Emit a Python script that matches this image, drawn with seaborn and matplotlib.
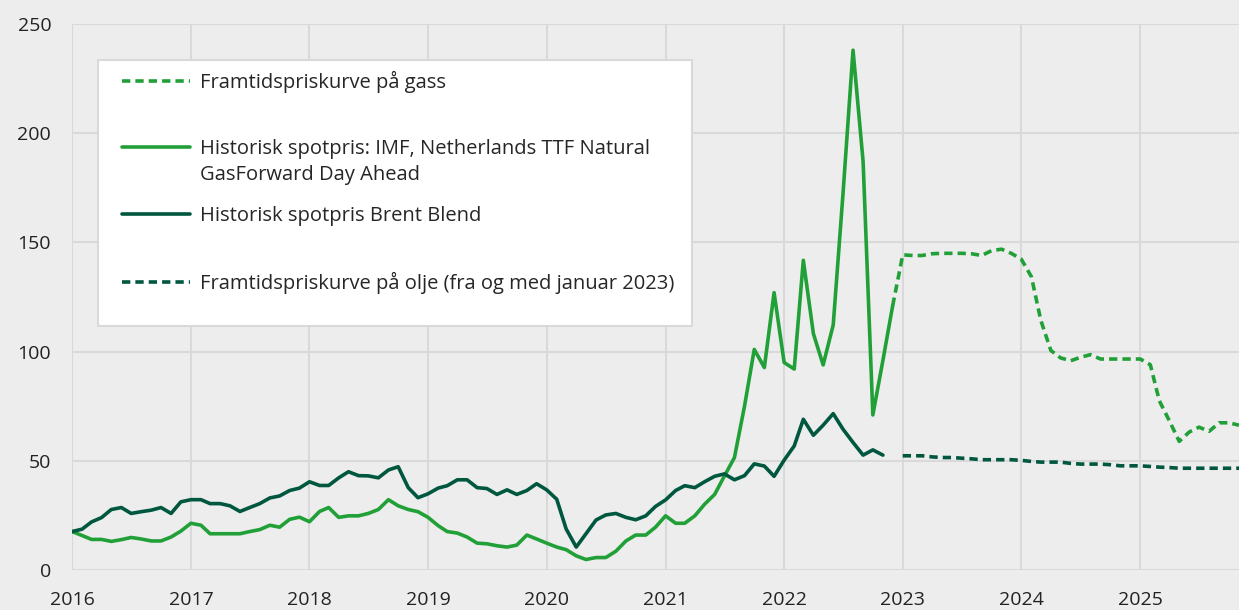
import numpy as np
import pandas as pd
import matplotlib
matplotlib.use("Agg")
import matplotlib.pyplot as plt
import matplotlib.dates as mdates
from matplotlib.patches import Rectangle
import seaborn as sns

# ── Data (monthly, Jan 2016 – Nov 2025) ───────────────────────────────
gas_hist = [
    17.6, 15.8, 14.0, 14.0, 13.1, 13.9, 14.9, 14.2, 13.3, 13.3, 15.1, 17.8,
    21.4, 20.5, 16.6, 16.6, 16.6, 16.6, 17.6, 18.5, 20.5, 19.6, 23.2, 24.2,
    22.1, 26.8, 28.6, 24.1, 24.8, 24.8, 25.9, 27.7, 32.2, 29.4, 27.7, 26.7,
    24.1, 20.3, 17.6, 16.9, 15.1, 12.3, 12.0, 11.1, 10.5, 11.4, 16.0, 14.2,
    12.3, 10.5, 9.3, 6.5, 4.8, 5.7, 5.7, 8.6, 13.3, 16.0, 16.0, 19.6,
    24.8, 21.4, 21.4, 24.8, 30.1, 34.6, 43.0, 51.5, 75.0, 101.0, 92.7, 127.0,
    95.0, 92.0, 141.8, 108.2, 93.9, 112.2, 172.0, 238.0, 187.0, 71.0, 96.0, 121.0,
]
brent_hist = [
    17.6, 18.7, 22.0, 24.0, 27.7, 28.6, 25.9, 26.7, 27.4, 28.6, 25.9, 31.2,
    32.2, 32.2, 30.4, 30.4, 29.4, 26.8, 28.6, 30.4, 33.0, 33.9, 36.4, 37.5,
    40.4, 38.7, 38.7, 42.2, 45.0, 43.2, 43.1, 42.2, 45.8, 47.3, 37.7, 33.1,
    34.9, 37.5, 38.6, 41.3, 41.3, 37.7, 37.3, 34.6, 36.7, 34.6, 36.4, 39.5,
    36.7, 32.4, 18.8, 10.5, 16.6, 22.9, 25.2, 25.9, 24.1, 23.0, 24.8, 29.1,
    32.1, 36.4, 38.6, 37.7, 40.4, 42.9, 44.0, 41.3, 43.2, 48.6, 47.6, 42.9,
    50.3, 56.8, 69.0, 61.7, 66.3, 71.6, 64.5, 58.4, 52.6, 55.0, 52.6,
]
# gas forward curve starts at Dec 2022 (joins the last historical point)
gas_fwd = [
    121.0,
    144.3, 144.0, 144.0, 144.8, 145.0, 145.0, 145.0, 144.8, 144.0, 146.2, 146.9, 145.0,
    142.3, 134.3, 114.3, 100.5, 97.1, 95.8, 97.4, 98.6, 96.6, 96.6, 96.6, 96.6,
    96.6, 94.0, 77.4, 68.2, 58.9, 63.2, 65.4, 63.5, 67.4, 67.4, 66.3,
]
# oil forward curve from Jan 2023
oil_fwd = [
    52.3, 52.3, 52.3, 51.8, 51.5, 51.5, 51.2, 50.9, 50.5, 50.5, 50.5, 50.5,
    50.2, 49.7, 49.4, 49.4, 49.4, 48.8, 48.5, 48.5, 48.5, 48.2, 47.7, 47.7,
    47.7, 47.4, 47.1, 46.9, 46.6, 46.6, 46.6, 46.6, 46.6, 46.6, 46.6,
]

labels = [
    "Framtidspriskurve på gass",
    "Historisk spotpris: IMF, Netherlands TTF Natural",
    "Historisk spotpris Brent Blend",
    "Framtidspriskurve på olje (fra og med januar 2023)",
]
label2_cont = "GasForward Day Ahead"

months = pd.date_range("2016-01-01", "2025-11-01", freq="MS")

# ── Long-format table ─────────────────────────────────────────────────
frames = [
    pd.DataFrame({"date": months[83:83 + len(gas_fwd)], "value": gas_fwd, "series": labels[0]}),
    pd.DataFrame({"date": months[:len(gas_hist)], "value": gas_hist, "series": labels[1]}),
    pd.DataFrame({"date": months[:len(brent_hist)], "value": brent_hist, "series": labels[2]}),
    pd.DataFrame({"date": months[84:84 + len(oil_fwd)], "value": oil_fwd, "series": labels[3]}),
]
df = pd.concat(frames, ignore_index=True)

light = "#21a038"
dark = "#00573f"
palette = {labels[0]: light, labels[1]: light, labels[2]: dark, labels[3]: dark}
dashes = {labels[0]: (2.3, 1.4), labels[1]: "", labels[2]: "", labels[3]: (2.3, 1.4)}

# ── Plot ──────────────────────────────────────────────────────────────
W, H = 1239, 610
bg = "#ededed"
sns.set_theme(style="whitegrid")
plt.rcParams["font.family"] = ["Open Sans", "DejaVu Sans"]

fig = plt.figure(figsize=(W / 100, H / 100), dpi=100, facecolor=bg)
ax = fig.add_axes([72 / W, 1 - 570 / H, 1 - 72 / W, (570 - 24) / H])
ax.set_facecolor(bg)

sns.lineplot(data=df, x="date", y="value", hue="series", style="series",
             palette=palette, dashes=dashes, hue_order=labels, style_order=labels,
             linewidth=2.6, ax=ax)

ax.set_xlim(months[0], months[-1])
ax.set_ylim(0, 250)
ax.set_yticks([0, 50, 100, 150, 200, 250])
ax.xaxis.set_major_locator(mdates.YearLocator())
ax.xaxis.set_major_formatter(mdates.DateFormatter("%Y"))
ax.set_xlabel("")
ax.set_ylabel("")
ax.grid(True, color="#d9d9d9", linewidth=1.5)
for s in ax.spines.values():
    s.set_visible(False)
ax.tick_params(axis="both", length=0, labelsize=14, colors="#222222")
ax.tick_params(axis="y", pad=15)
ax.tick_params(axis="x", pad=15)

# legend box (drawn separately so padding can match the original)
def ax_xy(px, py):
    return (px - 72) / (W - 72), (570 - py) / (570 - 24)

bx0, by0 = ax_xy(98, 326)
bx1, by1 = ax_xy(692, 60)
ax.add_patch(Rectangle((bx0, by0), bx1 - bx0, by1 - by0, transform=ax.transAxes,
                       facecolor="white", edgecolor="#d9d9d9", linewidth=1.5,
                       zorder=4.5))

lx, ly = ax_xy(122, 71)
leg = ax.legend(loc="upper left", bbox_to_anchor=(lx, ly), borderaxespad=0,
                frameon=False, fontsize=14.5, handlelength=3.4,
                handletextpad=0.45, labelspacing=2.3, borderpad=0)
leg.set_zorder(5)
for line in leg.get_lines():
    line.set_linewidth(2.6)

# second line of the TTF label, placed under the first line
fig.canvas.draw()
bb = leg.get_texts()[1].get_window_extent()
fig.text(bb.x0 / W, ((bb.y0 + bb.y1) / 2 - 26) / H, label2_cont,
         fontsize=14.5, va="center", ha="left", color=leg.get_texts()[1].get_color(),
         zorder=6)

fig.savefig("out.png", dpi=100, facecolor=bg)
